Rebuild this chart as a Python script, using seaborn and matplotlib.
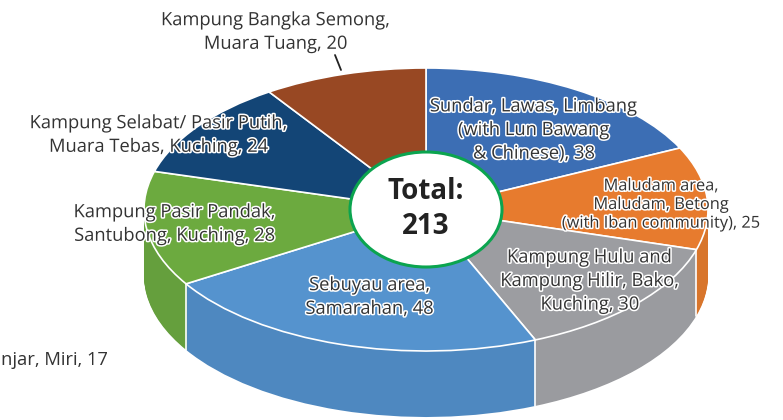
import numpy as np
import matplotlib.pyplot as plt
import matplotlib.patheffects as pe
from matplotlib.patches import Ellipse
import seaborn as sns

sns.set_theme(style='white')
plt.rcParams['font.family'] = ['Open Sans', 'DejaVu Sans']

values = [38, 25, 30, 48, 28, 24, 20]
labels = ["Sundar, Lawas, Limbang\n(with Lun Bawang\n& Chinese), 38",
          "Maludam area,\nMaludam, Betong\n(with Iban community), 25",
          "Kampung Hulu and\nKampung Hilir, Bako,\nKuching, 30",
          "Sebuyau area,\nSamarahan, 48",
          "Kampung Pasir Pandak,\nSantubong, Kuching, 28",
          "Kampung Selabat/ Pasir Putih,\nMuara Tebas, Kuching, 24",
          "Kampung Bangka Semong,\nMuara Tuang, 20"]
stray_label = "njar, Miri, 17"
total_label = "Total:\n213"

top_colors = ["#3C6EB4", "#E77B2E", "#9C9DA1", "#5593CE", "#6CAA3F", "#134576", "#984823"]
wall_colors = ["#36639F", "#D8752B", "#9A9B9F", "#4E88C0", "#659F3D", "#113E6A", "#87401F"]

# label centres in pixels, font size, line spacing
label_pos = [(534, 130, 13.2, 1.4), (661, 205, 11.8, 1.22), (590, 281, 13.2, 1.4), (370, 297, 13.2, 1.4),
             (175, 224, 13.2, 1.4), (159, 135, 13.2, 1.4), (276, 32, 13.2, 1.4)]

W, H = 783, 420
cx, cy, rx, ry = 426, 209.5, 282, 141.5
depth = 66 / ry

fig = plt.figure(figsize=(W / 100, H / 100), dpi=100)
ax = fig.add_axes([0, 0, 1, 1])

# side wall: stacked pies going up to the top face
for d in np.linspace(depth, 0, 67)[:-1]:
    ax.pie(values, colors=sns.color_palette(wall_colors), startangle=90, counterclock=False,
           center=(0, -d), wedgeprops=dict(linewidth=0))

# white lines on the wall at the slice edges
angles = np.radians(90 - np.cumsum(values) / sum(values) * 360)
for a in angles:
    if np.sin(a) < 0:
        ax.plot([np.cos(a), np.cos(a)], [np.sin(a), np.sin(a) - depth], c='white', lw=1.2)

ax.pie(values, colors=sns.color_palette(top_colors), startangle=90, counterclock=False,
       wedgeprops=dict(edgecolor='white', linewidth=1.2))

ax.add_patch(Ellipse((0, 0), 2 * 76 / rx, 2 * 57.5 / ry, fc='white', ec='#0BA44F', lw=2.2, zorder=5))

ax.set_aspect('auto')
ax.set_xlim(-cx / rx, (W - cx) / rx)
ax.set_ylim((cy - H) / ry, cy / ry)

halo = [pe.withStroke(linewidth=2.2, foreground='white')]
for txt, (x, y, fs, ls) in zip(labels, label_pos):
    fig.text(x / W, 1 - y / H, txt, ha='center', va='center', fontsize=fs, color='#333333',
             linespacing=ls, path_effects=halo)

fig.text(1 / W, 1 - 360 / H, stray_label, ha='left', va='center', fontsize=13.2, color='#333333')
fig.text(cx / W, 1 - 209 / H, total_label, ha='center', va='center', fontsize=20, color='#222222',
         fontweight='bold', linespacing=1.3, zorder=10)

# leader line for the top label
fig.add_artist(plt.Line2D([335 / W, 341 / W], [1 - 55 / H, 1 - 70 / H], color='#222222', lw=1.3))

fig.savefig('out.png', dpi=100)
